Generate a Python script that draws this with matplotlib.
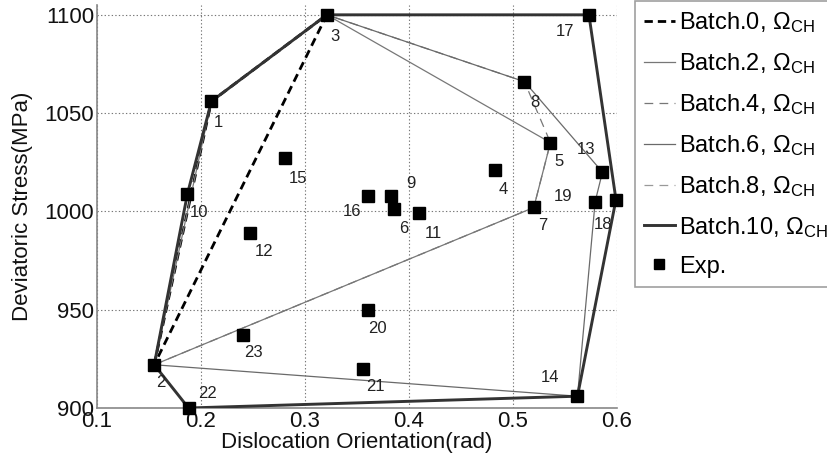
import matplotlib
matplotlib.use("Agg")
import matplotlib.pyplot as plt

plt.rcParams["font.family"] = ["Liberation Sans", "DejaVu Sans"]
plt.rcParams["mathtext.fontset"] = "custom"
plt.rcParams["mathtext.rm"] = "Liberation Sans"
plt.rcParams["mathtext.it"] = "Liberation Sans:italic"
plt.rcParams["mathtext.bf"] = "Liberation Sans:bold"

# Experimental points (numbered 1..23)
point_ids = list(range(1, 24))
orientation = [0.210, 0.155, 0.321, 0.483, 0.536, 0.386, 0.520, 0.511, 0.383,
               0.187, 0.410, 0.247, 0.586, 0.562, 0.281, 0.361, 0.573, 0.579,
               0.599, 0.361, 0.356, 0.188, 0.240]
stress = [1056, 922, 1100, 1021, 1035, 1001, 1002, 1066, 1008,
          1009, 999, 989, 1020, 906, 1027, 1008, 1100, 1005,
          1006, 950, 920, 900, 937]

# Convex hull vertex sequences (point numbers) for each batch
hull_batch0 = [2, 1, 3, 2]
hull_batch2 = [2, 7, 5, 3, 1, 2]
hull_batch4 = [2, 7, 5, 8, 3, 1, 10, 2]
hull_batch6 = [2, 14, 18, 13, 8, 3, 1, 10, 2]
hull_batch8 = [2, 22, 14, 19, 17, 3, 1, 10, 2]
hull_batch10 = [2, 22, 14, 19, 17, 3, 1, 10, 2]

batch_names = ["Batch.0", "Batch.2", "Batch.4", "Batch.6", "Batch.8", "Batch.10"]

# Label offsets in pixels (dx, dy), y positive upward
label_offsets = {
    1: (7, -21), 2: (7, -18), 3: (8, -22), 4: (8, -19), 5: (9, -19),
    6: (9, -19), 7: (9, -18), 8: (10, -21), 9: (20, 12), 10: (12, -19),
    11: (14, -20), 12: (14, -18), 13: (-16, 23), 14: (-27, 19), 15: (13, -20),
    16: (-16, -16), 17: (-24, -17), 18: (8, -23), 19: (-53, 3), 20: (9, -19),
    21: (12, -18), 22: (19, 15), 23: (11, -17),
}

fig = plt.figure(figsize=(8.28, 4.65), dpi=100)
ax = fig.add_axes([97 / 828, 1 - 408 / 465, 520 / 828, 403 / 465])

def hull_xy(seq):
    return ([orientation[i - 1] for i in seq], [stress[i - 1] for i in seq])

styles = [
    dict(color="black", lw=2.0, ls=(0, (3, 1.8))),
    dict(color="#777777", lw=0.9, ls="-"),
    dict(color="#777777", lw=0.9, ls=(0, (7, 5))),
    dict(color="#6a6a6a", lw=0.9, ls="-"),
    dict(color="#999999", lw=0.9, ls=(0, (7, 5))),
    dict(color="#333333", lw=2.1, ls="-"),
]
hulls = [hull_batch0, hull_batch2, hull_batch4, hull_batch6, hull_batch8, hull_batch10]

handles = []
for name, seq, st in zip(batch_names, hulls, styles):
    hx, hy = hull_xy(seq)
    ln, = ax.plot(hx, hy, color=st["color"], lw=st["lw"], linestyle=st["ls"],
                  label=name + r", $\Omega_{\mathrm{CH}}$", zorder=3)
    handles.append(ln)

pts, = ax.plot(orientation, stress, linestyle="none", marker="s", ms=9,
               color="black", label="Exp.", zorder=5, clip_on=False)
handles.append(pts)

for pid, xv, yv in zip(point_ids, orientation, stress):
    dx, dy = label_offsets[pid]
    ax.annotate(str(pid), (xv, yv), xytext=(dx, dy), textcoords="offset pixels",
                ha="center", va="center", fontsize=12, color="#222222", zorder=6)

ax.set_xlim(0.1, 0.6)
ax.set_ylim(900, 1105)
ax.set_xticks([0.1, 0.2, 0.3, 0.4, 0.5, 0.6])
ax.set_xticklabels(["0.1", "0.2", "0.3", "0.4", "0.5", "0.6"])
ax.set_yticks([900, 950, 1000, 1050, 1100])
ax.grid(True, linestyle=(0, (1.2, 2)), color="#777777", lw=0.8)
ax.set_axisbelow(True)
for side in ("top", "right"):
    ax.spines[side].set_visible(False)
for side in ("left", "bottom"):
    ax.spines[side].set_color("#888888")
    ax.spines[side].set_linewidth(1.2)
ax.tick_params(length=0, labelsize=16, pad=2, colors="#111111")
ax.set_xlabel("Dislocation Orientation(rad)", fontsize=16, labelpad=0, color="#111111")
ax.set_ylabel("Deviatoric Stress(MPa)", fontsize=16, labelpad=8, color="#111111")

leg = fig.legend(handles=handles, loc="upper left",
                 bbox_to_anchor=(635 / 828, 1 - 1 / 465), fontsize=17,
                 frameon=True, fancybox=False, edgecolor="#888888",
                 handlelength=1.3, handletextpad=0.17, labelspacing=0.68,
                 borderpad=0.38, borderaxespad=0.0, markerscale=0.75)
leg.get_frame().set_linewidth(1.2)

fig.savefig("out.png", dpi=100)
